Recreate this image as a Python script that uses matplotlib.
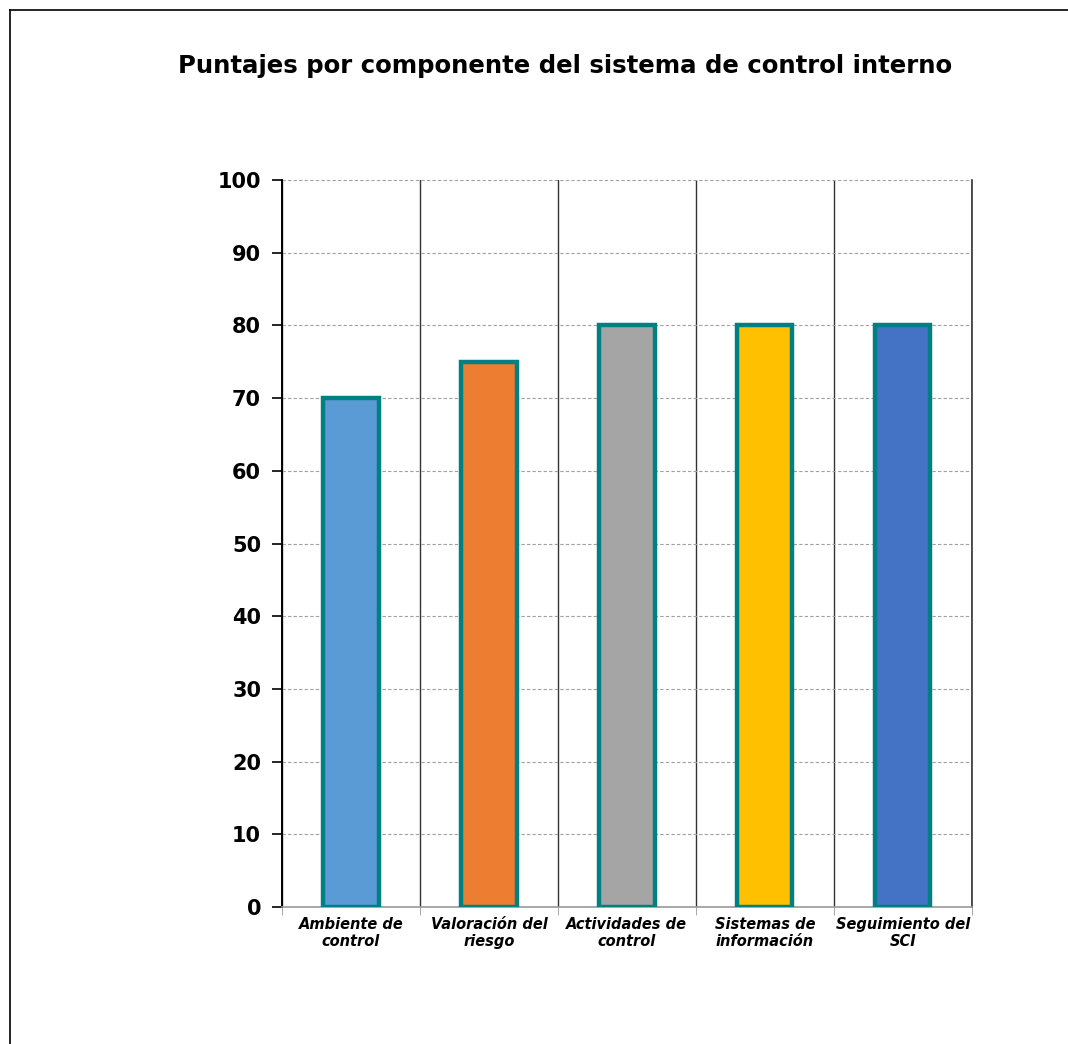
import matplotlib.pyplot as plt
import numpy as np

categories = ["Ambiente de\ncontrol", "Valoración del\nriesgo", "Actividades de\ncontrol",
              "Sistemas de\ninformación", "Seguimiento del\nSCI"]
scores = [70, 75, 80, 80, 80]
colors = ["#5B9BD5", "#ED7D31", "#A5A5A5", "#FFC000", "#4472C4"]
yticks = list(range(0, 101, 10))

plt.rcParams['font.family'] = ['DejaVu Sans']

fig = plt.figure(figsize=(10.68, 10.44), dpi=100)
# figure frame (top and left border)
fig.add_artist(plt.Line2D([0.0094, 1.0], [0.9904, 0.9904], color="black", lw=1.2))
fig.add_artist(plt.Line2D([0.0094, 0.0094], [0.0, 0.9904], color="black", lw=1.2))

ax = fig.add_axes([0.264, 0.1312, 0.646, 0.6964])
x = np.arange(len(categories))
ax.bar(x, scores, width=0.4, color=colors, edgecolor="#008080", linewidth=3.2, zorder=3)

ax.set_xlim(-0.5, len(categories) - 0.5)
ax.set_ylim(0, 100)
ax.set_yticks(yticks)
ax.set_yticklabels([str(v) for v in yticks], fontsize=15, fontweight="bold")
ax.tick_params(axis="y", length=7, width=1.2, pad=8, color="black")

ax.set_xticks(x)
ax.set_xticklabels(categories, fontsize=10.5, fontweight="bold", fontstyle="italic",
                   linespacing=1.15)
ax.tick_params(axis="x", which="major", length=0, pad=7)
ax.set_xticks(np.arange(len(categories) + 1) - 0.5, minor=True)
ax.tick_params(axis="x", which="minor", length=6, color="#999999")

ax.grid(axis="y", which="major", linestyle=(0, (3, 2)), color="#A0A0A0", lw=0.8, zorder=0)
ax.grid(axis="x", which="minor", linestyle="-", color="#333333", lw=1.0, zorder=1)

ax.spines["top"].set_visible(False)
ax.spines["right"].set_color("#333333")
ax.spines["right"].set_linewidth(1.2)
ax.spines["left"].set_linewidth(1.4)
ax.spines["bottom"].set_color("#999999")
ax.spines["bottom"].set_linewidth(1.2)

fig.text(0.529, 0.937, "Puntajes por componente del sistema de control interno",
         ha="center", va="center", fontsize=17.6, fontweight="bold")

plt.savefig("out.png", dpi=100)
